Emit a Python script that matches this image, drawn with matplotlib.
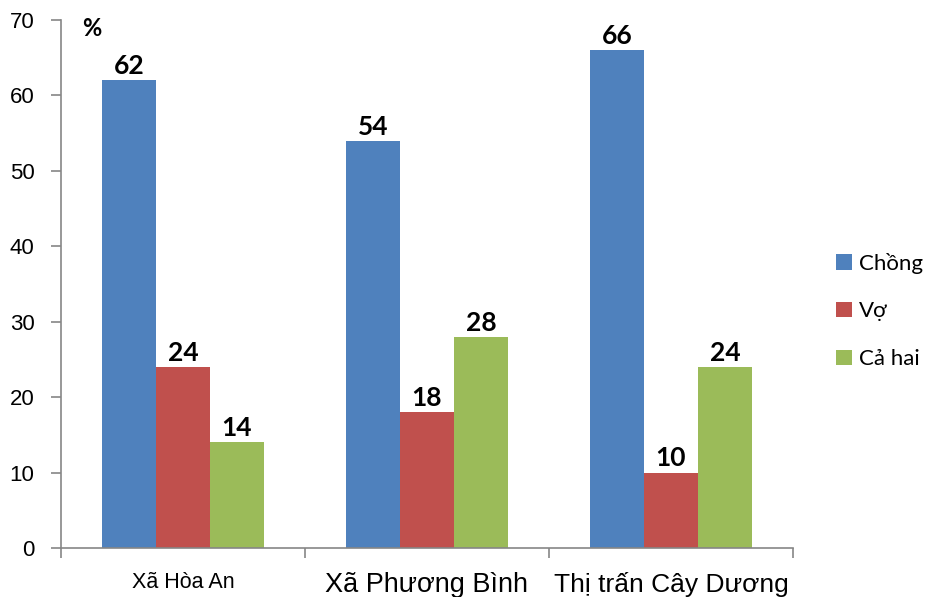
import numpy as np
import matplotlib
matplotlib.use('Agg')
from matplotlib import pyplot as plt

categories = ['Xã Hòa An', 'Xã Phương Bình', 'Thị trấn Cây Dương']
series = ['Chồng', 'Vợ', 'Cả hai']
values = {
    'Chồng': [62, 54, 66],
    'Vợ': [24, 18, 10],
    'Cả hai': [14, 28, 24],
}
colors = ['#4F81BD', '#C0504D', '#9BBB59']
yticks = [0, 10, 20, 30, 40, 50, 60, 70]

fig = plt.figure(figsize=(9.28, 5.97), dpi=100)
ax = fig.add_axes([61 / 928, 1 - 548 / 597, 732 / 928, 528 / 597])

x = np.arange(len(categories))
w = 0.221
for i, s in enumerate(series):
    pos = x + (i - 1) * w
    bars = ax.bar(pos, values[s], width=w, color=colors[i], label=s, zorder=2)
    for b, v in zip(bars, values[s]):
        ax.annotate(str(v), (b.get_x() + b.get_width() / 2, v), xytext=(0, 1.5),
                    textcoords='offset points', ha='center', va='bottom',
                    fontsize=19, fontweight='bold', family='Lato')

ax.set_xlim(-0.5, 2.5)
ax.set_ylim(0, 70)
ax.set_yticks(yticks)
ax.set_yticklabels([str(t) for t in yticks], fontsize=16, family='Liberation Sans')
ax.set_xticks(x)
ax.set_xticklabels(categories, family='Liberation Sans')
for lab, fs in zip(ax.get_xticklabels(), [15.5, 19.5, 19]):
    lab.set_fontsize(fs)
ax.set_xticks([-0.5, 0.5, 1.5, 2.5], minor=True)
ax.tick_params(axis='x', which='major', length=0, pad=17)
ax.tick_params(axis='x', which='minor', length=7, color='#868686', width=1.2)
ax.tick_params(axis='y', length=7, color='#868686', width=1.2, pad=12)

for sp in ['top', 'right']:
    ax.spines[sp].set_visible(False)
for sp in ['left', 'bottom']:
    ax.spines[sp].set_color('#868686')
    ax.spines[sp].set_linewidth(1.2)

fig.text(92 / 928, 1 - 29 / 597, '%', fontsize=17, fontweight='bold',
         family='Lato', ha='center', va='center')

ax.legend(loc='center left', bbox_to_anchor=(836 / 928, 1 - 311 / 597),
          bbox_transform=fig.transFigure, frameon=False, prop={'family': 'Lato', 'size': 16},
          handlelength=0.7, handleheight=0.7, handletextpad=0.35, labelspacing=1.25,
          borderpad=0, borderaxespad=0)

fig.savefig('out.png', dpi=100)
